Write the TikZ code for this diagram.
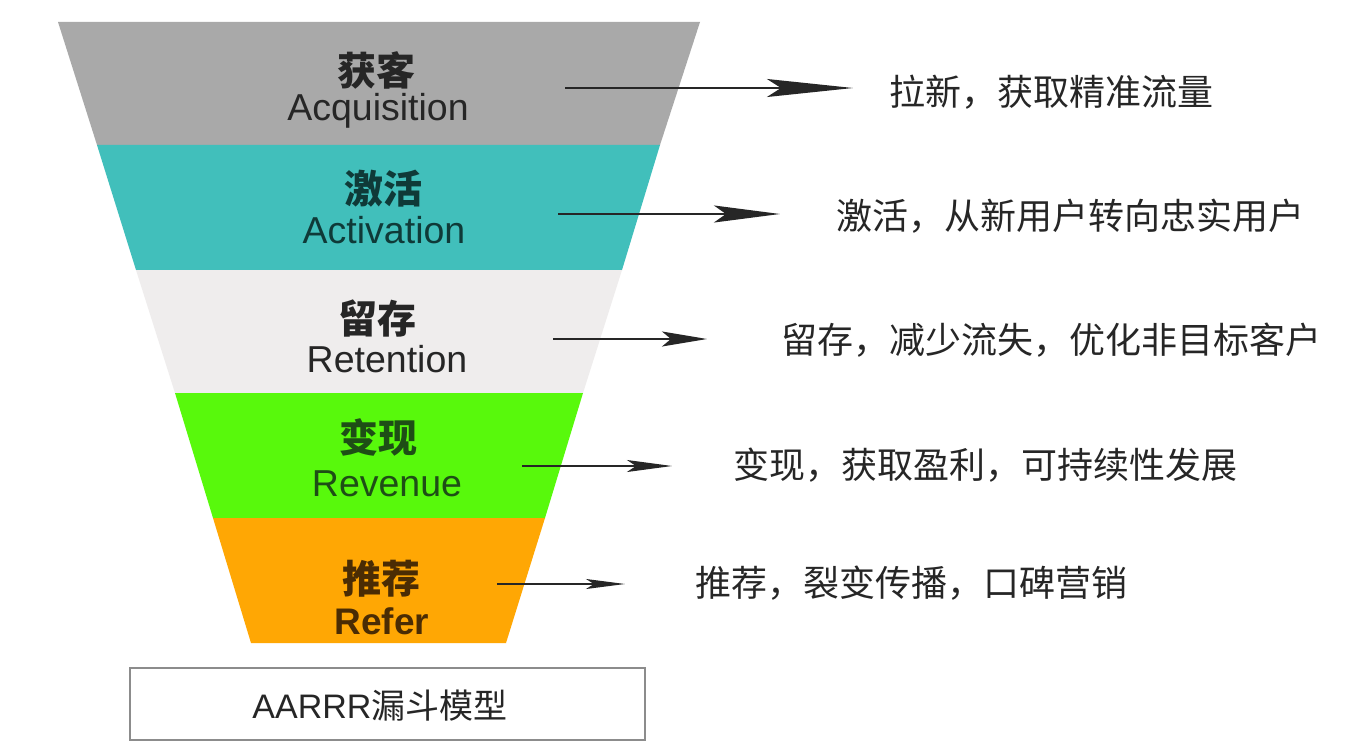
\documentclass[tikz,border=0pt]{standalone}
\usepackage{fontspec}
\setmainfont{Liberation Sans}
\newfontfamily\cjk{Noto Sans CJK SC}
\usetikzlibrary{arrows.meta}
\definecolor{bandgray}{HTML}{A9A9A9}
\definecolor{bandteal}{HTML}{41BFBB}
\definecolor{bandwhite}{HTML}{EFEDED}
\definecolor{bandgreen}{HTML}{58F90C}
\definecolor{bandorange}{HTML}{FFA704}
\definecolor{txtdark}{HTML}{262626}
\definecolor{txtteal}{HTML}{0F3A38}
\definecolor{txtgreen}{HTML}{1E4E16}
\definecolor{txtbrown}{HTML}{4A2C04}
\tikzset{
  cnlab/.style={font=\cjk\bfseries\fontsize{39}{41}\selectfont, inner sep=0pt},
  enlab/.style={font=\fontsize{37.5}{40}\selectfont, inner sep=0pt, anchor=base},
  desc/.style={font=\cjk\fontsize{36}{38}\selectfont, inner sep=0pt, anchor=west, text=txtdark},
  conn/.style={draw=black!85, line width=#1},
}
\begin{document}
\begin{tikzpicture}[x=1pt,y=-1pt]
\useasboundingbox (0,0) rectangle (1356,746);
\fill[white] (0,0) rectangle (1356,746);
% funnel bands
\fill[bandgray]   (58,22)  -- (700,22)  -- (660,145) -- (97,145)  -- cycle;
\fill[bandteal]   (97,145) -- (660,145) -- (622,270) -- (136,270) -- cycle;
\fill[bandwhite]  (136,270) -- (622,270) -- (583,393) -- (175,393) -- cycle;
\fill[bandgreen]  (175,393) -- (583,393) -- (545,518) -- (213,518) -- cycle;
\fill[bandorange] (213,518) -- (545,518) -- (506,643) -- (251,643) -- cycle;
% labels in funnel
\node[cnlab, text=txtdark]  (c1) at (376,70)  {获客};
\node[enlab, text=txtdark]  (l1) at (378,121) {Acquisition};
\node[cnlab, text=txtteal]  (c2) at (383,189) {激活};
\node[enlab, text=txtteal]  (l2) at (384,243) {Activation};
\node[cnlab, text=txtdark]  (c3) at (377,319) {留存};
\node[enlab, text=txtdark]  (l3) at (387,372) {Retention};
\node[cnlab, text=txtgreen] (c4) at (378,437) {变现};
\node[enlab, text=txtgreen] (l4) at (387,496) {Revenue};
\node[cnlab, text=txtbrown] (c5) at (381,579) {推荐};
\node[enlab, text=txtbrown, font=\bfseries\fontsize{37}{40}\selectfont] (l5) at (382,634) {Refer};
% descriptions
\node[desc] (d1) at (889,92)  {拉新，获取精准流量};
\node[desc] (d2) at (836,216) {激活，从新用户转向忠实用户};
\node[desc] (d3) at (781,340) {留存，减少流失，优化非目标客户};
\node[desc] (d4) at (733,465) {变现，获取盈利，可持续性发展};
\node[desc] (d5) at (695,583) {推荐，裂变传播，口碑营销};
% arrows
\coordinate (s1) at (565,88);  \coordinate (e1) at (853,88);
\coordinate (s2) at (558,214); \coordinate (e2) at (780,214);
\coordinate (s3) at (553,339); \coordinate (e3) at (707,339);
\coordinate (s4) at (522,466); \coordinate (e4) at (672,466);
\coordinate (s5) at (497,584); \coordinate (e5) at (625,584);
\draw[conn=2.2pt, -{Stealth[length=86pt,width=18pt,inset=14pt]}] (s1) -- (e1);
\draw[conn=2.6pt, -{Stealth[length=66pt,width=17pt,inset=12pt]}] (s2) -- (e2);
\draw[conn=2pt, -{Stealth[length=45pt,width=15pt,inset=9pt]}] (s3) -- (e3);
\draw[conn=1.4pt, -{Stealth[length=45pt,width=12pt,inset=9pt]}] (s4) -- (e4);
\draw[conn=1.4pt, -{Stealth[length=39pt,width=10pt,inset=8pt]}] (s5) -- (e5);
% bottom box
\node[draw=black!45, line width=1.5pt, minimum width=515pt, minimum height=72pt, inner sep=0pt] (box) at (387.5,704) {};
\node[inner sep=0pt, text=txtdark] (boxt) at (380,706) {\fontsize{34}{36}\selectfont AARRR{\cjk 漏斗模型}};
\end{tikzpicture}
\end{document}
